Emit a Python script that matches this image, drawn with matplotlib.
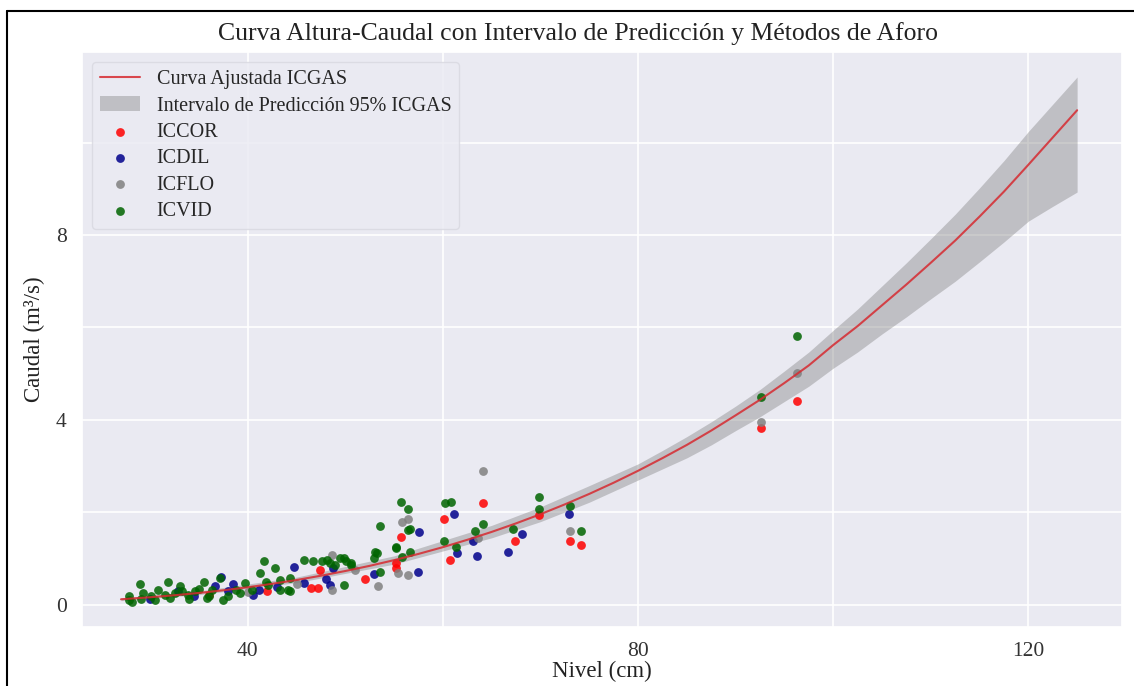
import matplotlib
matplotlib.use("Agg")
import matplotlib.pyplot as plt
import seaborn as sns
from matplotlib.lines import Line2D

sns.set_theme(style="darkgrid")
plt.rcParams['font.family'] = ['Liberation Serif', 'DejaVu Serif']

# ---------------- data ----------------
curve_h = [27, 30, 32.5, 35, 37.5, 40, 42.5, 45, 47.5, 50, 52.5, 55, 57.5, 60, 62.5, 65, 67.5, 70,
           72.5, 75, 77.5, 80, 82.5, 85, 87.5, 90, 92.5, 95, 97.5, 100, 102.5, 105, 107.5, 110,
           112.5, 115, 117.5, 120, 122.5, 125]
curve_q = [0.12, 0.164, 0.207, 0.257, 0.315, 0.38, 0.455, 0.537, 0.63, 0.732, 0.844, 0.967, 1.102,
           1.248, 1.407, 1.578, 1.763, 1.961, 2.174, 2.40, 2.642, 2.90, 3.174, 3.46, 3.77, 4.10,
           4.437, 4.80, 5.18, 5.62, 6.03, 6.48, 6.93, 7.40, 7.88, 8.40, 8.94, 9.52, 10.11, 10.70]

band_h = [27, 35, 45, 55, 65, 70, 75, 80, 82.5, 85, 87.5, 90, 92.5, 95, 97.5, 100, 102.5, 105,
          107.5, 110, 112.5, 115, 117.5, 120, 122.5, 125]
band_lo = [0.09, 0.22, 0.48, 0.88, 1.45, 1.80, 2.22, 2.70, 2.94, 3.18, 3.46, 3.77, 4.07, 4.40, 4.73,
           5.12, 5.47, 5.86, 6.23, 6.62, 7.00, 7.42, 7.85, 8.30, 8.62, 8.93]
band_hi = [0.15, 0.30, 0.60, 1.06, 1.72, 2.12, 2.58, 3.05, 3.34, 3.64, 3.96, 4.30, 4.66, 5.06, 5.47,
           5.94, 6.40, 6.90, 7.40, 7.92, 8.45, 9.02, 9.61, 10.24, 10.83, 11.42]

iccor_h = [36.0, 42.0, 46.5, 47.2, 47.4, 52.0, 55.2, 55.2, 55.7, 60.1, 60.7, 64.1, 67.4, 69.8, 73.0, 74.1, 92.6, 96.3]
iccor_q = [0.22, 0.30, 0.36, 0.36, 0.76, 0.55, 0.79, 0.90, 1.46, 1.86, 0.96, 2.21, 1.37, 1.95, 1.39, 1.30, 3.83, 4.41]

icdil_h = [30.0, 32.8, 34.5, 36.6, 37.2, 38.0, 38.5, 40.5, 41.1, 43.0, 44.7, 45.8, 48.0, 48.4, 48.7, 52.9,
           57.4, 57.5, 61.1, 61.4, 63.1, 63.5, 66.7, 68.1, 72.9]
icdil_q = [0.12, 0.29, 0.18, 0.40, 0.61, 0.30, 0.45, 0.22, 0.32, 0.38, 0.82, 0.47, 0.55, 0.43, 0.79, 0.66,
           0.72, 1.57, 1.97, 1.12, 1.37, 1.06, 1.15, 1.54, 1.97]

icflo_h = [40.0, 45.0, 48.6, 48.6, 51.0, 53.3, 55.4, 55.8, 56.4, 56.4, 63.6, 64.1, 73.0, 92.6, 96.3]
icflo_q = [0.28, 0.45, 1.08, 0.32, 0.75, 0.41, 0.69, 1.80, 1.85, 0.65, 1.45, 2.90, 1.60, 3.96, 5.02]

icvid_h = [27.8, 27.8, 28.1, 28.9, 29.0, 29.3, 30.1, 30.5, 30.8, 31.5, 31.8, 32.0, 32.5, 33.0, 33.2, 33.9,
           34.0, 34.6, 35.0, 35.5, 35.8, 36.0, 36.3, 37.1, 37.5, 38.0, 38.8, 39.2, 39.7, 40.4, 41.2, 41.7,
           41.9, 42.1, 42.8, 43.3, 43.3, 44.1, 44.3, 44.3, 45.8, 46.7, 47.6, 48.1, 48.4, 48.9, 49.4, 49.9,
           49.9, 50.1, 50.6, 50.6, 52.9, 53.0, 53.2, 53.5, 53.5, 55.2, 55.2, 55.7, 55.8, 56.4, 56.4, 56.6,
           56.6, 60.1, 60.2, 60.8, 61.3, 63.3, 64.1, 67.2, 69.8, 69.8, 73.0, 74.1, 92.6, 96.3]
icvid_q = [0.18, 0.11, 0.07, 0.45, 0.12, 0.25, 0.18, 0.10, 0.32, 0.22, 0.50, 0.15, 0.25, 0.40, 0.29, 0.22,
           0.12, 0.29, 0.35, 0.50, 0.14, 0.20, 0.32, 0.58, 0.11, 0.18, 0.32, 0.25, 0.47, 0.32, 0.69, 0.94,
           0.50, 0.43, 0.79, 0.54, 0.32, 0.32, 0.58, 0.29, 0.97, 0.94, 0.94, 0.97, 0.90, 0.86, 1.01, 1.01,
           0.42, 0.94, 0.86, 0.90, 1.01, 1.15, 1.12, 1.71, 0.72, 1.25, 1.23, 2.23, 1.04, 2.08, 1.62, 1.64,
           1.15, 1.37, 2.20, 2.23, 1.25, 1.59, 1.75, 1.64, 2.33, 2.07, 2.13, 1.59, 4.50, 5.82]

x_ticks = [40, 60, 80, 100, 120]
x_labels = ['40', '', '80', '', '120']
y_ticks = [0, 2, 4, 6, 8, 10]
y_labels = ['0', '', '4', '', '8', '']

# ---------------- figure ----------------
fig = plt.figure(figsize=(11.34, 6.86), dpi=100)
fig.patch.set_facecolor('white')
ax = fig.add_axes([82 / 1134, 1 - 627 / 686, (1122 - 82) / 1134, (627 - 52) / 686])
ax.set_facecolor('#EAEAF2')

ax.plot(curve_h, curve_q, color='#d62a30', lw=1.5, alpha=0.85, label='Curva Ajustada ICGAS')
ax.fill_between(band_h, band_lo, band_hi, color='gray', alpha=0.4, lw=0,
                label='Intervalo de Predicción 95% ICGAS')

ax.scatter(iccor_h, iccor_q, s=40, color='red', alpha=0.85, lw=0, label='ICCOR')
ax.scatter(icdil_h, icdil_q, s=40, color='darkblue', alpha=0.85, lw=0, label='ICDIL')
ax.scatter(icflo_h, icflo_q, s=40, color='gray', alpha=0.85, lw=0, label='ICFLO')
ax.scatter(icvid_h, icvid_q, s=40, color='darkgreen', alpha=0.85, lw=0, label='ICVID')

ax.set_xlim(23.0, 129.6)
ax.set_ylim(-0.48, 11.96)
ax.set_xticks(x_ticks)
ax.set_xticklabels(x_labels)
ax.set_yticks(y_ticks)
ax.set_yticklabels(y_labels)
ax.tick_params(axis='both', labelsize=15.5, colors='#333333', pad=5)
ax.grid(True, color='white', lw=1.2)

ax.set_xlabel('Nivel (cm)', fontsize=16.5, color='#222222', labelpad=0)
ax.set_ylabel('Caudal (m³/s)', fontsize=16.5, color='#222222', labelpad=8)

fig.text(578 / 1134, 1 - 34 / 686, 'Curva Altura-Caudal con Intervalo de Predicción y Métodos de Aforo',
         ha='center', va='center', fontsize=18.5, color='#222222')

leg = ax.legend(loc='upper left', fontsize=14.5, frameon=True, borderaxespad=0.5,
                handlelength=2.0, labelspacing=0.36)
leg.get_frame().set_facecolor('#EAEAF2')
leg.get_frame().set_edgecolor('#d8d8e0')

# outer black frame of the screenshot
fig.add_artist(Line2D([7 / 1134, 7 / 1134], [0, 1 - 11 / 686], transform=fig.transFigure, color='black', lw=1.5))
fig.add_artist(Line2D([7 / 1134, 1], [1 - 11 / 686, 1 - 11 / 686], transform=fig.transFigure, color='black', lw=1.5))

fig.savefig('out.png', dpi=100)
